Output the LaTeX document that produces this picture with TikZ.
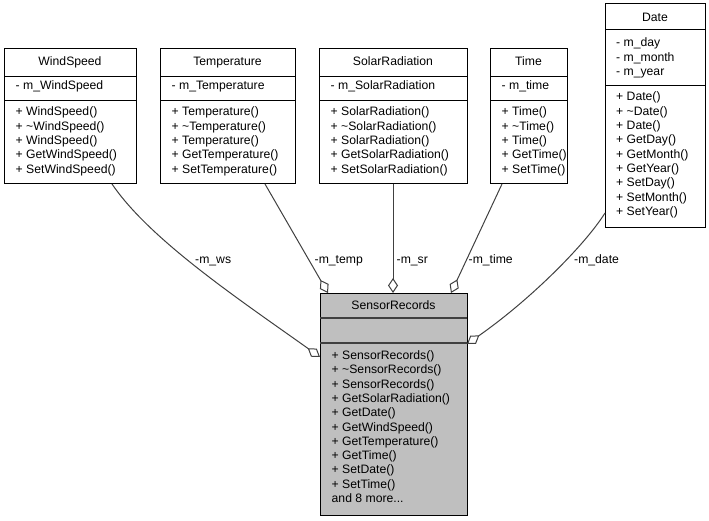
\documentclass[tikz,border=0pt]{standalone}
\usepackage{fontspec}
\setmainfont{Liberation Sans}
\usetikzlibrary{arrows.meta}
\definecolor{linegray}{HTML}{404040}
\definecolor{boxgray}{HTML}{BFBFBF}
\tikzset{
 classbox/.style={draw=black, line width=1pt, fill=white, inner sep=0pt, outer sep=0pt, anchor=north west},
 focusbox/.style={classbox, fill=boxgray},
 sepline/.style={draw=black, line width=1pt},
 focussep/.style={draw=linegray, line width=1.6pt},
 txt/.style={font=\fontsize{12.2}{14.3}\selectfont, inner sep=0pt, anchor=base west},
 ttl/.style={txt, anchor=base},
 lbl/.style={txt},
 assoc/.style={draw=linegray, line width=1pt, -{Diamond[length=15pt, width=10pt, fill=white, line width=1pt]}},
}
\newcommand\classtext[4]{\foreach \t [count=\i] in {#4} {\node[txt] (#1-\i) at (#2, {#3+(\i-1)*14.3}) {\t};}}
\begin{document}
\begin{tikzpicture}[x=1pt,y=-1pt]
\useasboundingbox (0,0) rectangle (709,521);

% WindSpeed
\node[classbox, minimum width=132pt, minimum height=135pt] (ws) at (4,49) {};
\draw[sepline] (4,77) -- (136,77);
\draw[sepline] (4,101) -- (136,101);
\node[ttl] (ws-t) at (70,66) {WindSpeed};
\classtext{ws-a}{15.5}{90}{- m\_WindSpeed}
\classtext{ws-m}{15.5}{116}{+ WindSpeed(), + \textasciitilde WindSpeed(), + WindSpeed(), + GetWindSpeed(), + SetWindSpeed()}

% Temperature
\node[classbox, minimum width=135pt, minimum height=135pt] (tp) at (160,49) {};
\draw[sepline] (160,77) -- (295,77);
\draw[sepline] (160,101) -- (295,101);
\node[ttl] (tp-t) at (227.5,66) {Temperature};
\classtext{tp-a}{171.5}{90}{- m\_Temperature}
\classtext{tp-m}{171.5}{116}{+ Temperature(), + \textasciitilde Temperature(), + Temperature(), + GetTemperature(), + SetTemperature()}

% SolarRadiation
\node[classbox, minimum width=148pt, minimum height=135pt] (so) at (319,49) {};
\draw[sepline] (319,77) -- (467,77);
\draw[sepline] (319,101) -- (467,101);
\node[ttl] (so-t) at (393,66) {SolarRadiation};
\classtext{so-a}{330.5}{90}{- m\_SolarRadiation}
\classtext{so-m}{330.5}{116}{+ SolarRadiation(), + \textasciitilde SolarRadiation(), + SolarRadiation(), + GetSolarRadiation(), + SetSolarRadiation()}

% Time
\node[classbox, minimum width=77pt, minimum height=135pt] (ti) at (490,49) {};
\draw[sepline] (490,77) -- (567,77);
\draw[sepline] (490,101) -- (567,101);
\node[ttl] (ti-t) at (528.5,66) {Time};
\classtext{ti-a}{501.5}{90}{- m\_time}
\classtext{ti-m}{501.5}{116}{+ Time(), + \textasciitilde Time(), + Time(), + GetTime(), + SetTime()}

% Date
\node[classbox, minimum width=100pt, minimum height=224pt] (da) at (605,4) {};
\draw[sepline] (605,30) -- (705,30);
\draw[sepline] (605,86) -- (705,86);
\node[ttl] (da-t) at (655,21.5) {Date};
\classtext{da-a}{616}{47}{- m\_day, - m\_month, - m\_year}
\classtext{da-m}{616}{101}{+ Date(), + \textasciitilde Date(), + Date(), + GetDay(), + GetMonth(), + GetYear(), + SetDay(), + SetMonth(), + SetYear()}

% SensorRecords
\node[focusbox, minimum width=147pt, minimum height=222pt] (sr) at (320,293) {};
\draw[focussep] (320,318) -- (467,318);
\draw[focussep] (320,343) -- (467,343);
\node[ttl] (sr-t) at (393.5,309.5) {SensorRecords};
\classtext{sr-m}{331.5}{359.5}{+ SensorRecords(), + \textasciitilde SensorRecords(), + SensorRecords(), + GetSolarRadiation(), + GetDate(), + GetWindSpeed(), + GetTemperature(), + GetTime(), + SetDate(), + SetTime(), {and 8 more.{}.{}.}}

% connector end points
\coordinate (ws-out) at ([xshift=108pt]ws.south west);
\coordinate (tp-out) at ([xshift=105pt]tp.south west);
\coordinate (so-out) at ([xshift=74pt]so.south west);
\coordinate (ti-out) at ([xshift=12pt]ti.south west);
\coordinate (da-out) at ([yshift=15pt]da.south west);
\coordinate (sr-ws) at ([yshift=-64pt]sr.north west);
\coordinate (sr-tp) at ([xshift=8pt]sr.north west);
\coordinate (sr-so) at ([xshift=73pt]sr.north west);
\coordinate (sr-ti) at ([xshift=131pt]sr.north west);
\coordinate (sr-da) at ([yshift=-51pt]sr.north east);

% connectors
\draw[assoc] (ws-out) .. controls (150,240) and (240,300) .. (sr-ws);
\draw[assoc] (tp-out) -- (sr-tp);
\draw[assoc] (so-out) -- (sr-so);
\draw[assoc] (ti-out) -- (sr-ti);
\draw[assoc] (da-out) .. controls (585,245) and (530,300) .. (sr-da);

% labels
\node[lbl] (l-ws) at (195,264) {-m\_ws};
\node[lbl] (l-tp) at (314.5,264) {-m\_temp};
\node[lbl] (l-so) at (396.5,264) {-m\_sr};
\node[lbl] (l-ti) at (468.5,264) {-m\_time};
\node[lbl] (l-da) at (574,263) {-m\_date};
\end{tikzpicture}
\end{document}
